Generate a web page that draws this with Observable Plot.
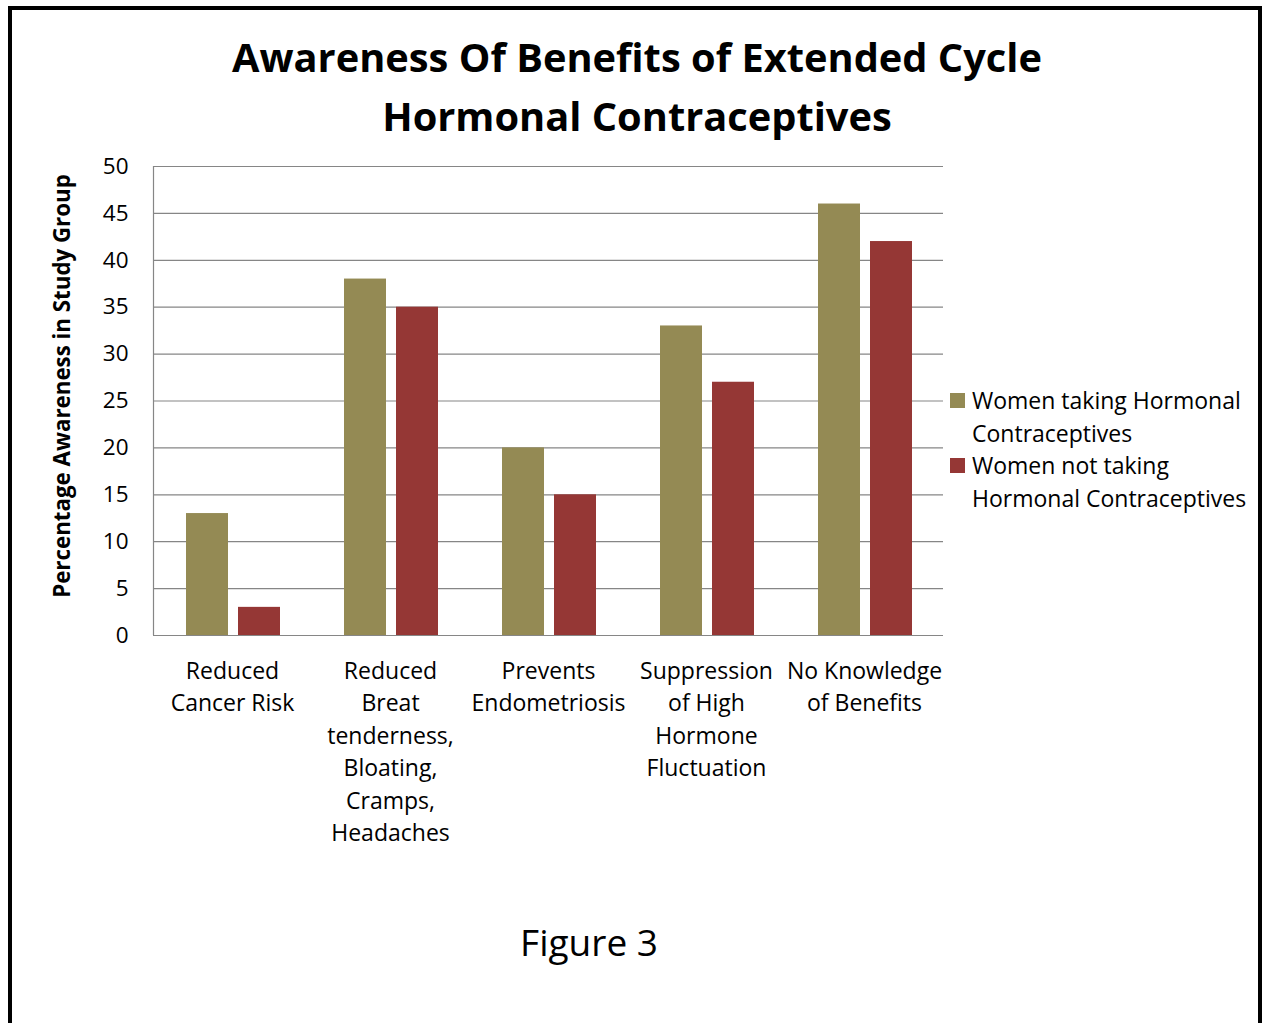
<!DOCTYPE html>
<html><head><meta charset="utf-8">
<script src="https://cdn.jsdelivr.net/npm/d3@7"></script>
<script src="https://cdn.jsdelivr.net/npm/@observablehq/plot@0.6"></script>
<style>
body{margin:0;background:#fff;}
#wrap{position:relative;width:1263px;height:1023px;overflow:hidden;font-family:"Open Sans",sans-serif;color:#000;}
#frame{position:absolute;left:8px;top:6px;width:1246px;height:1100px;border:4px solid #000;box-sizing:content-box;}
#chart{position:absolute;left:0;top:0;}
#title{position:absolute;left:0;width:1274px;top:27px;text-align:center;font-weight:700;font-size:39.8px;line-height:59px;}
#ylabel{position:absolute;left:61px;top:386px;transform:translate(-50%,-50%) rotate(-90deg);white-space:nowrap;font-weight:700;font-size:22.3px;}
#legend{position:absolute;left:950px;top:384px;font-size:23px;line-height:32.5px;}
.li{position:relative;padding-left:22px;}
.sw{position:absolute;left:0;top:9px;width:15px;height:15px;}
#caption{position:absolute;left:0;width:1178px;top:916px;text-align:center;font-size:37px;line-height:52px;}
</style>
</head><body>
<div id="wrap">
  <div id="frame"></div>
  <div id="chart"></div>
  <div id="title"></div>
  <div id="ylabel"></div>
  <div id="legend"></div>
  <div id="caption"></div>
</div>
<script>
const titleLines = ["Awareness Of Benefits of Extended Cycle", "Hormonal Contraceptives"];
const yAxisTitle = "Percentage Awareness in Study Group";
const captionText = "Figure 3";
const categories = [
  "Reduced\nCancer Risk",
  "Reduced\nBreat\ntenderness,\nBloating,\nCramps,\nHeadaches",
  "Prevents\nEndometriosis",
  "Suppression\nof High\nHormone\nFluctuation",
  "No Knowledge\nof Benefits"
];
const seriesNames = ["Women taking Hormonal\nContraceptives", "Women not taking\nHormonal Contraceptives"];
const seriesColors = ["#948A54", "#953735"];
const taking = [13, 38, 20, 33, 46];
const notTaking = [3, 35, 15, 27, 42];
const yTicks = [0, 5, 10, 15, 20, 25, 30, 35, 40, 45, 50];

const takingRows = categories.map((c, i) => ({category: c, value: taking[i]}));
const notRows = categories.map((c, i) => ({category: c, value: notTaking[i]}));

const W = 1263, H = 1023, ML = 153, MR = 320, MT = 166, MB = 388;
const band = (W - ML - MR) / categories.length;

const chart = Plot.plot({
  width: W, height: H,
  marginLeft: ML, marginRight: MR, marginTop: MT, marginBottom: MB,
  style: {fontFamily: "'Open Sans', sans-serif", fontSize: "23px", color: "#000", background: "transparent", overflow: "visible"},
  x: {domain: categories, padding: 0, axis: null},
  y: {domain: [0, 50], axis: null},
  marks: [
    Plot.ruleY(yTicks, {stroke: "#868686", strokeWidth: 1.2}),
    Plot.ruleX([categories[0]], {x: d => d, dx: -band / 2, stroke: "#868686", strokeWidth: 1.2}),
    Plot.barY(takingRows, {x: "category", y: "value", fill: seriesColors[0], insetLeft: 33, insetRight: 83}),
    Plot.barY(notRows, {x: "category", y: "value", fill: seriesColors[1], insetLeft: 85, insetRight: 31}),
    Plot.axisY(yTicks, {tickSize: 0, tickPadding: 25, label: null, fontSize: 22.5}),
    Plot.axisX({tickSize: 0, tickPadding: 20, label: null, fontSize: 23, lineHeight: 1.413})
  ]
});
document.getElementById("chart").appendChild(chart);

document.getElementById("title").innerHTML = titleLines.join("<br>");
document.getElementById("ylabel").textContent = yAxisTitle;
document.getElementById("caption").textContent = captionText;
const leg = document.getElementById("legend");
seriesNames.forEach((s, i) => {
  const d = document.createElement("div");
  d.className = "li";
  d.innerHTML = `<span class="sw" style="background:${seriesColors[i]}"></span>` + s.split("\n").join("<br>");
  leg.appendChild(d);
});
</script>
</body></html>
